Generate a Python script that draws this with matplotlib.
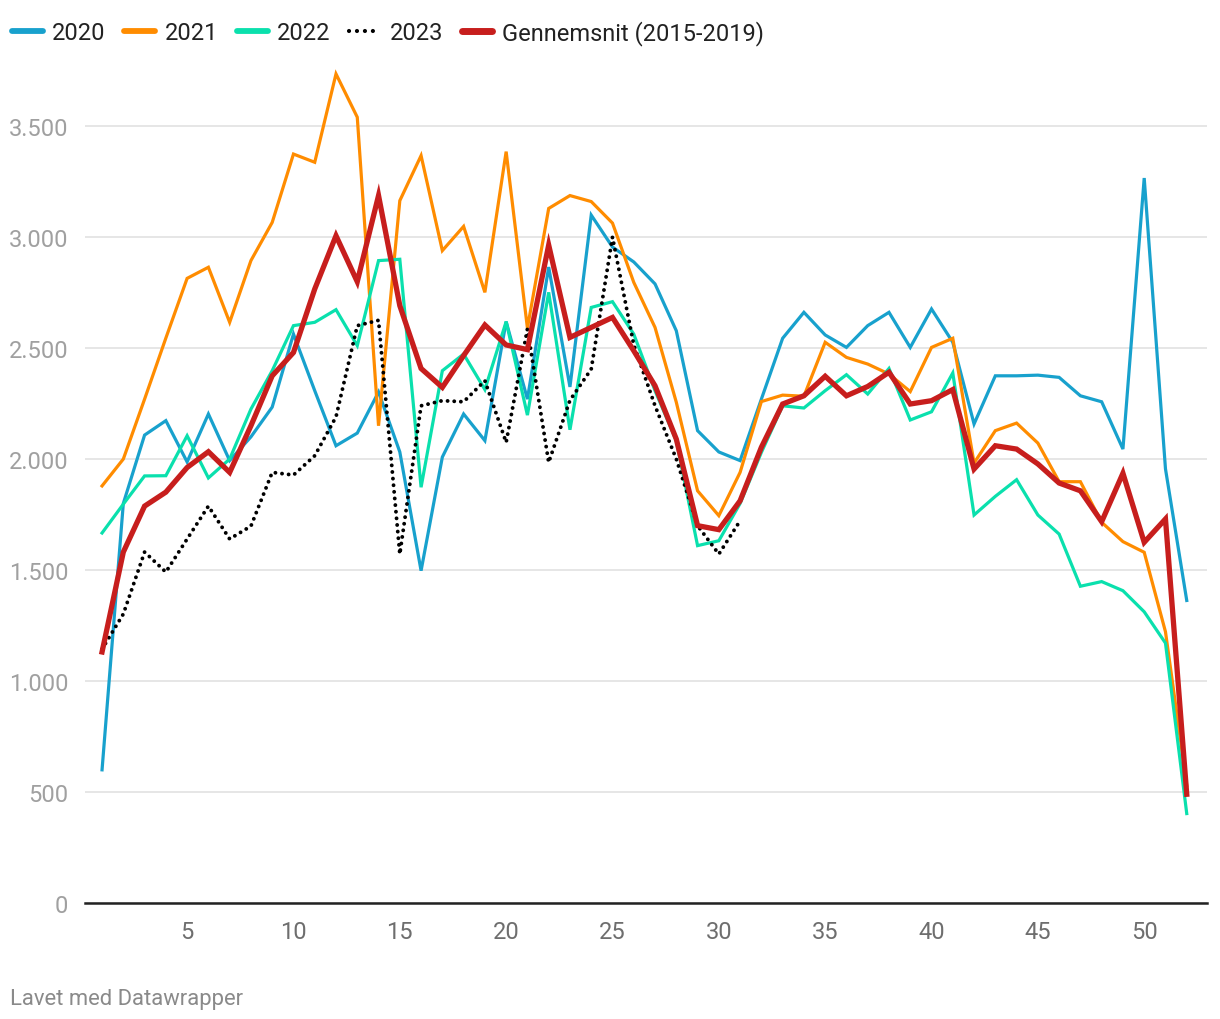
import numpy as np
import matplotlib.pyplot as plt
from matplotlib.lines import Line2D

plt.rcParams['font.family'] = ['Roboto', 'DejaVu Sans']

# weeks 1-52
weeks = np.arange(1, 53)

y2020 = [600, 1800, 2108, 2173, 1987, 2203, 1993, 2100, 2234, 2563,
         2308, 2060, 2117, 2302, 2032, 1497, 2009, 2203, 2083, 2619,
         2270, 2865, 2325, 3099, 2955, 2888, 2789, 2578, 2128, 2032,
         1993, 2270, 2544, 2661, 2559, 2503, 2601, 2661, 2503, 2676,
         2526, 2158, 2375, 2375, 2378, 2368, 2285, 2258, 2045, 3266,
         1956, 1363]

y2021 = [1879, 2000, 2270, 2545, 2814, 2864, 2616, 2894, 3066, 3374,
         3337, 3735, 3540, 2150, 3164, 3367, 2939, 3048, 2751, 3385,
         2590, 3129, 3187, 3160, 3063, 2796, 2593, 2256, 1857, 1745,
         1940, 2259, 2288, 2283, 2526, 2458, 2428, 2383, 2304, 2503,
         2544, 1982, 2128, 2162, 2072, 1898, 1898, 1715, 1628, 1580,
         1222, 530]

y2022 = [1667, 1797, 1924, 1925, 2105, 1915, 2000, 2225, 2398, 2601,
         2616, 2673, 2511, 2894, 2900, 1873, 2398, 2473, 2313, 2619,
         2198, 2751, 2132, 2683, 2709, 2563, 2308, 2083, 1610, 1632,
         1800, 2030, 2240, 2230, 2308, 2380, 2293, 2408, 2176, 2213,
         2388, 1748, 1832, 1907, 1748, 1662, 1427, 1448, 1407, 1312,
         1171, 403]

# 2023 only up to week 31
y2023 = [1144, 1302, 1581, 1491, 1640, 1788, 1640, 1698, 1940, 1928,
         2015, 2190, 2601, 2625, 1572, 2240, 2263, 2258, 2353, 2075,
         2586, 1985, 2265, 2405, 3000, 2515, 2240, 2000, 1700, 1572,
         1722]

avg = [1131, 1581, 1788, 1851, 1962, 2033, 1940, 2150, 2375, 2480,
       2766, 3006, 2799, 3187, 2691, 2408, 2323, 2466, 2604, 2514,
       2493, 2964, 2548, 2593, 2638, 2488, 2330, 2090, 1700, 1682,
       1812, 2053, 2248, 2285, 2373, 2285, 2327, 2391, 2248, 2263,
       2313, 1955, 2060, 2045, 1978, 1892, 1857, 1718, 1936, 1625,
       1730, 490]

labels = ['2020', '2021', '2022', '2023', 'Gennemsnit (2015-2019)']
colors = ['#18a1cd', '#ff8c00', '#0ae0ad', '#000000', '#c71e1d']

fig = plt.figure(figsize=(12.2, 10.2), dpi=100)
ax = fig.add_axes([0.0697, 0.1137, 0.9196, 0.827])

ax.plot(weeks, y2020, color=colors[0], lw=2.3, solid_joinstyle='miter')
ax.plot(weeks, y2021, color=colors[1], lw=2.3, solid_joinstyle='miter')
ax.plot(weeks, y2022, color=colors[2], lw=2.3, solid_joinstyle='miter')
ax.plot(weeks[:len(y2023)], y2023, color=colors[3], lw=2.8,
        linestyle=(0, (0.01, 1.7)), dash_capstyle='round')
ax.plot(weeks, avg, color=colors[4], lw=3.8, solid_joinstyle='miter')

ax.set_xlim(0.2, 52.95)
ax.set_ylim(0, 3800)

yt = [0, 500, 1000, 1500, 2000, 2500, 3000, 3500]
ax.set_yticks(yt)
ax.set_yticklabels([f'{v:,}'.replace(',', '.') for v in yt])
ax.set_xticks([5, 10, 15, 20, 25, 30, 35, 40, 45, 50])

ax.grid(axis='y', color='#e2e2e2', lw=1.2)
ax.set_axisbelow(True)
for s in ['top', 'right', 'left']:
    ax.spines[s].set_visible(False)
ax.spines['bottom'].set_color('#222222')
ax.spines['bottom'].set_linewidth(1.8)
ax.spines['bottom'].set_zorder(5)

ax.tick_params(axis='y', length=0, pad=12, labelsize=17, labelcolor='#a0a0a0')
ax.tick_params(axis='x', length=0, pad=12, labelsize=17, labelcolor='#6e6e6e')

handles = [Line2D([], [], color=colors[0], lw=4.2, solid_capstyle='round'),
           Line2D([], [], color=colors[1], lw=4.2, solid_capstyle='round'),
           Line2D([], [], color=colors[2], lw=4.2, solid_capstyle='round'),
           Line2D([], [], color=colors[3], lw=3, linestyle=(0, (0.01, 1.9)),
                  dash_capstyle='round'),
           Line2D([], [], color=colors[4], lw=5, solid_capstyle='round')]
fig.legend(handles, labels, loc='upper left', bbox_to_anchor=(0.002, 0.989),
           ncol=5, frameon=False, fontsize=17, handlelength=1.3,
           handletextpad=0.4, columnspacing=0.8, borderaxespad=0,
           labelcolor='#222222')

fig.text(0.008, 0.015, 'Lavet med Datawrapper', fontsize=15.8, color='#8a8a8a')

fig.savefig('out.png', dpi=100)
